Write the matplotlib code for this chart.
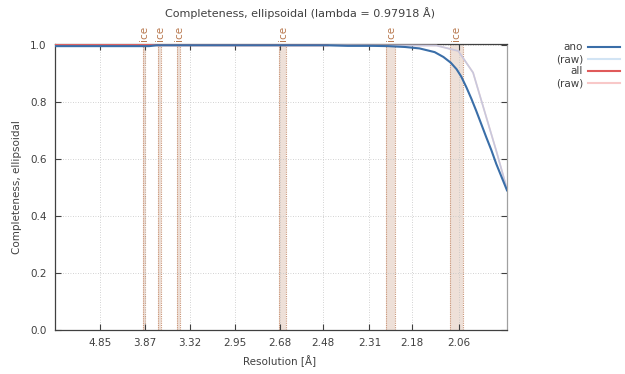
import matplotlib
matplotlib.use("Agg")
import matplotlib.pyplot as plt
import numpy as np

# ---- data (resolution in Å, completeness) ----
ano_res = [7.366, 4.50, 3.805, 3.70, 3.0, 2.462, 2.386, 2.35, 2.30, 2.25, 2.20, 2.16,
           2.12, 2.098, 2.080, 2.066, 2.055, 2.043, 2.032, 2.021, 2.010, 1.999, 1.988,
           1.978, 1.956]
ano_comp = [0.996, 0.996, 0.996, 0.999, 0.999, 0.999, 0.997, 0.997, 0.997, 0.996, 0.993,
            0.988, 0.975, 0.958, 0.938, 0.915, 0.889, 0.851, 0.812, 0.769, 0.723, 0.676,
            0.630, 0.583, 0.490]

ano_raw_res = [7.366, 3.0, 2.40, 2.115, 2.062, 2.028, 1.978, 1.956]
ano_raw_comp = [0.999, 0.999, 0.999, 0.998, 0.979, 0.903, 0.629, 0.495]

all_res = [7.366, 4.50, 3.805, 3.70, 3.0, 2.462]
all_comp = [1.000, 1.000, 1.000, 0.999, 0.999, 0.999]

all_raw_res = [7.366, 3.0, 2.40, 2.115, 2.062, 2.028, 1.978, 1.956]
all_raw_comp = [1.000, 0.999, 0.999, 0.998, 0.979, 0.903, 0.629, 0.495]

tick_labels = ["4.85", "3.87", "3.32", "2.95", "2.68", "2.48", "2.31", "2.18", "2.06"]
ice_bands = [(3.908, 3.870), (3.676, 3.636), (3.447, 3.418), (2.682, 2.648),
             (2.256, 2.230), (2.082, 2.052)]
res_range = (7.366, 1.956)

def q(d):
    return 1.0 / np.asarray(d, dtype=float) ** 2

fig = plt.figure(figsize=(6.25, 3.74), dpi=100)
ax = fig.add_axes([55/625, 44/374, 452/625, 286/374])

fs = 7.5
txt = "#404040"
ice_col = "#b8784e"

# ice bands
for lo, hi in ice_bands:
    a, b = q(lo), q(hi)
    ax.axvspan(a, b, facecolor="#eee0d8", edgecolor="none", zorder=1)
    for xv in (a, b):
        ax.axvline(xv, color="#c99476", lw=0.8, ls=(0, (1, 1)), zorder=1.5)
    ax.text((a + b) / 2, 1.012, "ice", rotation=90, ha="center", va="bottom",
            color=ice_col, fontsize=fs, transform=ax.get_xaxis_transform(), clip_on=False)

# curves
ax.plot(q(all_raw_res), all_raw_comp, color="#f8c8c8", lw=1.2, zorder=3)
ax.plot(q(ano_raw_res), ano_raw_comp, color="#b8c8e4", lw=1.2, alpha=0.75, zorder=3.2)
ax.plot(q(all_res), all_comp, color="#e05a5a", lw=1.3, zorder=3.5)
ax.plot(q(ano_res), ano_comp, color="#3a6ea8", lw=1.5, zorder=4)

ax.set_xlim(q(res_range[0]), q(res_range[1]))
ax.set_ylim(0, 1.0035)
ticks = q([float(t) for t in tick_labels])
ax.set_xticks(ticks)
ax.set_xticklabels(tick_labels)
ax.set_yticks([0, 0.2, 0.4, 0.6, 0.8, 1.0])
ax.set_yticklabels(["0.0", "0.2", "0.4", "0.6", "0.8", "1.0"])
ax.tick_params(direction="in", length=4, width=0.8, color="#404040", labelcolor=txt,
               labelsize=fs, top=True, right=True, pad=6)
ax.grid(True, color="#c4c4c4", lw=0.6, ls=(0, (1, 2)), zorder=0)
for s in ax.spines.values():
    s.set_color("#404040")
    s.set_linewidth(0.9)
ax.spines["right"].set_color("#a0a0a0")

ax.set_xlabel("Resolution [Å]", fontsize=fs, color=txt)
ax.xaxis.set_label_coords(225/452, -25/286)
ax.set_ylabel("Completeness, ellipsoidal", fontsize=fs, color=txt)
ax.yaxis.set_label_coords(-33/452, 0.5)

fig.text(300/625, 1 - 13/374, "Completeness, ellipsoidal (lambda = 0.97918 Å)",
         ha="center", va="center", fontsize=8, color=txt)

# legend (manual, gnuplot style)
leg = [("ano", "#3a6ea8"), ("(raw)", "#d2e4f4"), ("all", "#e05a5a"), ("(raw)", "#f8c8c8")]
ys = [47, 59, 71, 83]
for (lab, col), y in zip(leg, ys):
    fy = 1 - y / 374
    fig.text(583/625, 1 - (y + 3.5) / 374, lab, ha="right", va="baseline",
             fontsize=fs, color=txt)
    fig.add_artist(plt.Line2D([588/625, 620/625], [fy, fy], color=col, lw=1.5,
                              transform=fig.transFigure))

fig.savefig("out.png", dpi=100)
